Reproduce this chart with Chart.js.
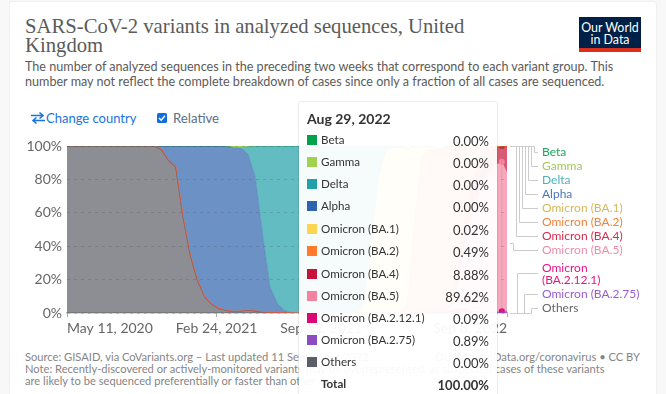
<!DOCTYPE html>
<html><head><meta charset="utf-8">
<script src="https://cdn.jsdelivr.net/npm/chart.js@4"></script>
<style>
html,body{margin:0;padding:0;width:666px;height:394px;overflow:hidden;background:#f8f8f8;font-family:Lato,sans-serif}
.a{position:absolute;white-space:nowrap}
#card{position:absolute;left:10px;top:2px;width:646px;height:400px;background:#fff;border-radius:2px;box-shadow:0 0 2px rgba(0,0,0,.12)}
#c{position:absolute;left:0;top:0}
#tip{position:absolute;left:299px;top:102px;width:198px;height:300px;background:rgba(255,255,255,.945);box-shadow:0 0 2px rgba(0,0,0,.28);border-radius:2px}
.t1{font-family:"Liberation Serif",serif;font-size:20.7px;color:#5b5b5b;left:25px}
.sub{font-size:12.6px;color:#5b5b5b;left:25px}
.foot{font-size:11.15px;color:#858585;left:25px}
.lab{font-size:12px;left:542px;line-height:12px}
.row{font-size:11.6px;color:#333}
</style></head><body>
<div id="card"></div>
<div class="a t1" style="top:15px">SARS-CoV-2 variants in analyzed sequences, United</div>
<div class="a t1" style="top:34px">Kingdom</div>
<div class="a sub" style="top:59px">The number of analyzed sequences in the preceding two weeks that correspond to each variant group. This</div>
<div class="a sub" style="top:74px">number may not reflect the complete breakdown of cases since only a fraction of all cases are sequenced.</div>
<div class="a" style="left:579px;top:17px;width:62px;height:35px;background:#002147;border-bottom:4px solid #dc2e1c;box-sizing:border-box;color:#fff;font-size:12.4px;line-height:12.5px;text-align:center;padding-top:4.5px;white-space:normal">Our World<br>in Data</div>
<svg class="a" style="left:31px;top:111px" width="14" height="14" viewBox="0 0 14 14"><path d="M0 4.5H11M8.5 1.5 12 4.5 8.5 7.5M14 9.5H3M5.5 6.5 2 9.5 5.5 12.5" fill="none" stroke="#1a73e0" stroke-width="1.6"/></svg>
<div class="a" style="left:46px;top:110px;font-size:13px;color:#1a73e0">Change country</div>
<svg class="a" style="left:157px;top:113px" width="10" height="10" viewBox="0 0 10 10"><rect width="10" height="10" rx="1.5" fill="#0f6fe0"/><path d="M2 5 4.2 7.2 8 2.8" fill="none" stroke="#fff" stroke-width="1.5"/></svg>
<div class="a" style="left:173px;top:110px;font-size:13.2px;color:#5d6f85">Relative</div>
<div class="a foot" style="top:350px">Source: GISAID, via CoVariants.org – Last updated 11 September 2022</div>
<div class="a foot" style="top:350px;left:auto;right:26px">OurWorldInData.org/coronavirus • CC BY</div>
<div class="a foot" style="top:362px">Note: Recently-discovered or actively-monitored variants may be overrepresented, as suspected cases of these variants</div>
<div class="a foot" style="top:374px">are likely to be sequenced preferentially or faster than other cases.</div>
<canvas id="c" width="666" height="394" style="width:666px;height:394px"></canvas>
<div id="labels"></div>
<div id="tip"></div>
<div id="tiptxt"></div>
<script>
const days=[0,14,28,42,56,70,84,98,112,126,140,154,168,182,196,210,224,238,252,266,280,294,308,322,336,350,364,378,392,406,420,434,448,462,476,490,504,518,532,546,560,574,588,602,616,630,644,658,672,686,700,714,728,742,756,770,784,798,812,826,840,850];
const tickDays=[0,289,491,850];
const tickLabels=["May 11, 2020","Feb 24, 2021","Sep 12, 2021","Sep 8, 2022"];
const names=["Beta","Gamma","Delta","Alpha","Omicron (BA.1)","Omicron (BA.2)","Omicron (BA.4)","Omicron (BA.5)","Omicron (BA.2.12.1)","Omicron (BA.2.75)","Others"];
const colors=["#00a34a","#a2d24d","#21a0a7","#2e64ad","#fdd551","#ff7a2b","#c9123a","#f583a0","#dc0677","#8c4bc4","#5b5e66"];
const tipValues=["0.00%","0.00%","0.00%","0.00%","0.02%","0.49%","8.88%","89.62%","0.09%","0.89%","0.00%"];
const tipTitle="Aug 29, 2022", tipTotal="100.00%";
const z=n=>Array(n).fill(0);
const beta=[...z(62)];
const gamma=[...z(22),0.2,1,1,0.5,0.2,...z(35)];
const delta=[...z(24),0.2,4.5,19,53.5,84.2,94.2,98.6,99.7,...Array(9).fill(100),95,60,20,3,1,1,...z(15)];
const alpha=[...z(13),2,8.4,12.4,42,65,80.2,90.2,94.8,97.4,98.1,98.2,97.6,93.2,79.5,46,15.6,5.6,1.3,0.3,...z(30)];
const ba1=[...z(41),5,40,80,97,99,98.7,93,45,5,2,1,0.5,0.3,0.2,0.1,0.1,0.05,0.05,0.03,0.02,0.02];
const ba2=[...z(45),0,0.3,5,55,94.5,97.6,96.5,97.5,94.5,74.5,39.9,19.9,7.9,1.9,0.97,0.49,0.38];
const ba4=[...z(53),1.5,8,17,20,19,15,11,8.88,15.6];
const ba5=[...z(53),1.5,14,40.5,58.5,72.1,82.4,87.3,89.62,82.4];
const ba2121=[...z(49),0,0.2,0.5,1,2,3,2.5,1.5,0.8,0.4,0.2,0.09,0.1];
const ba275=[...z(57),0.1,0.2,0.5,0.89,1.5];
const others=[...Array(13).fill(100),98,91.6,87.6,58,35,19.8,9.8,5.2,2.6,1.7,0.8,1.2,1.8,1.3,0.5,0.2,0.2,0.1,...z(31)];
const series=[beta,gamma,delta,alpha,ba1,ba2,ba4,ba5,ba2121,ba275,others];
const hoverDay=840;
const connectors=[[510,146,534,152],[510,146,531,166],[510,146,528,180],[510,146,525,194],[510,146,522,208],[510,146,519,222],[510,146,516,236],[510,243,513,250],[510,313,517,273],[510,313,524,294],[510,313,531,308]];
const labelTops=[146,160,174,188,202,216,230,244,262,288,302];
const labelColors=["#1aa85a","#a2c857","#4eb1ba","#4a76b8","#d4b95c","#f5823a","#d92b4f","#ee8eaa","#e8158a","#9a5cd6","#666"];

function rgba(h,a){const n=parseInt(h.slice(1),16);return `rgba(${n>>16},${n>>8&255},${n&255},${a})`}
const lineAlpha=[1,1,.25,.25,.2,.9,.35,.15,0,0,0];
const hoverIdx=days.indexOf(hoverDay);
const datasets=[];
for(let i=series.length-1;i>=0;i--){
  const bottom=i===series.length-1;
  datasets.push({label:names[i],data:series[i].map((v,k)=>({x:days[k],y:v})),
    backgroundColor:rgba(colors[i],.7),borderColor:rgba(colors[i],lineAlpha[i]),borderWidth:1.2,
    fill:bottom?'origin':'-1',tension:0,order:series.length-1-i,
    pointRadius:series[i].map((v,k)=>k===hoverIdx&&(i===0||i===7||i===8)?3:0),
    pointBackgroundColor:colors[i],pointBorderWidth:0});
}
const extras={id:'extras',
  afterDatasetsDraw(ch){const c=ch.ctx,x=ch.scales.x.getPixelForValue(hoverDay);c.save();c.strokeStyle='rgba(150,150,150,.35)';c.lineWidth=1;c.beginPath();c.moveTo(x,ch.chartArea.top);c.lineTo(x,ch.chartArea.bottom);c.stroke();c.restore();},
  afterDraw(ch){const c=ch.ctx;c.save();c.strokeStyle='#ccc';c.lineWidth=1;
    connectors.forEach(([x0,y0,x1,y1])=>{c.beginPath();c.moveTo(x0,y0+.5);c.lineTo(x1+.5,y0+.5);c.lineTo(x1+.5,y1+.5);c.lineTo(538,y1+.5);c.stroke();});
    c.restore();}
};
new Chart(document.getElementById('c'),{type:'line',data:{datasets},plugins:[extras],options:{
  responsive:false,animation:false,events:[],
  layout:{padding:{top:146,right:159,left:0,bottom:0}},
  plugins:{legend:{display:false},tooltip:{enabled:false}},
  scales:{
    x:{type:'linear',min:0,max:850,
      afterBuildTicks(s){s.ticks=tickDays.map(v=>({value:v}))},
      afterFit(s){s.height=81},
      grid:{drawOnChartArea:false,drawTicks:true,tickLength:4,color:'#aaa'},
      border:{display:true,color:'#b8b8b8',width:1.5},
      ticks:{autoSkip:false,maxRotation:0,align:'inner',color:'#666',padding:3,font:{family:'Lato',size:14},
        callback(v){const i=tickDays.indexOf(v);return i<0?'':tickLabels[i]}}},
    y:{stacked:true,min:0,max:100,
      afterFit(s){s.width=67},
      grid:{z:1,color:'rgba(60,60,60,.2)',tickLength:0,drawTicks:false},
      border:{display:false,dash:[3,4]},
      ticks:{stepSize:20,color:'#666',padding:5,font:{family:'Lato',size:14},callback:v=>v+'%'}}
  }}});
const L=document.getElementById('labels');
names.forEach((n,i)=>{const d=document.createElement('div');d.className='a lab';d.style.top=labelTops[i]+'px';d.style.color=labelColors[i];
  d.innerHTML=n==='Omicron (BA.2.12.1)'?'Omicron<br>(BA.2.12.1)':n;L.appendChild(d);});
const T=document.getElementById('tiptxt');
function add(cls,st,txt){const d=document.createElement('div');d.className='a '+cls;d.style.cssText=st;d.textContent=txt;T.appendChild(d);return d}
add('row','left:307px;top:110px;font-size:14px;font-weight:700;color:#333',tipTitle);
const rowTops=[133,155,177,199,222,244,267,289,311,333,355];
names.forEach((n,i)=>{const y=rowTops[i];
  add('','left:307px;top:'+(y+2)+'px;width:10px;height:10px;background:'+colors[i],'');
  add('row','left:321px;top:'+y+'px',n);
  add('row','right:177px;top:'+y+'px;font-size:13px',tipValues[i]);});
add('row','left:321px;top:377px;font-weight:700','Total');
add('row','right:177px;top:377px;font-size:13px;font-weight:700',tipTotal);
</script>
</body></html>
